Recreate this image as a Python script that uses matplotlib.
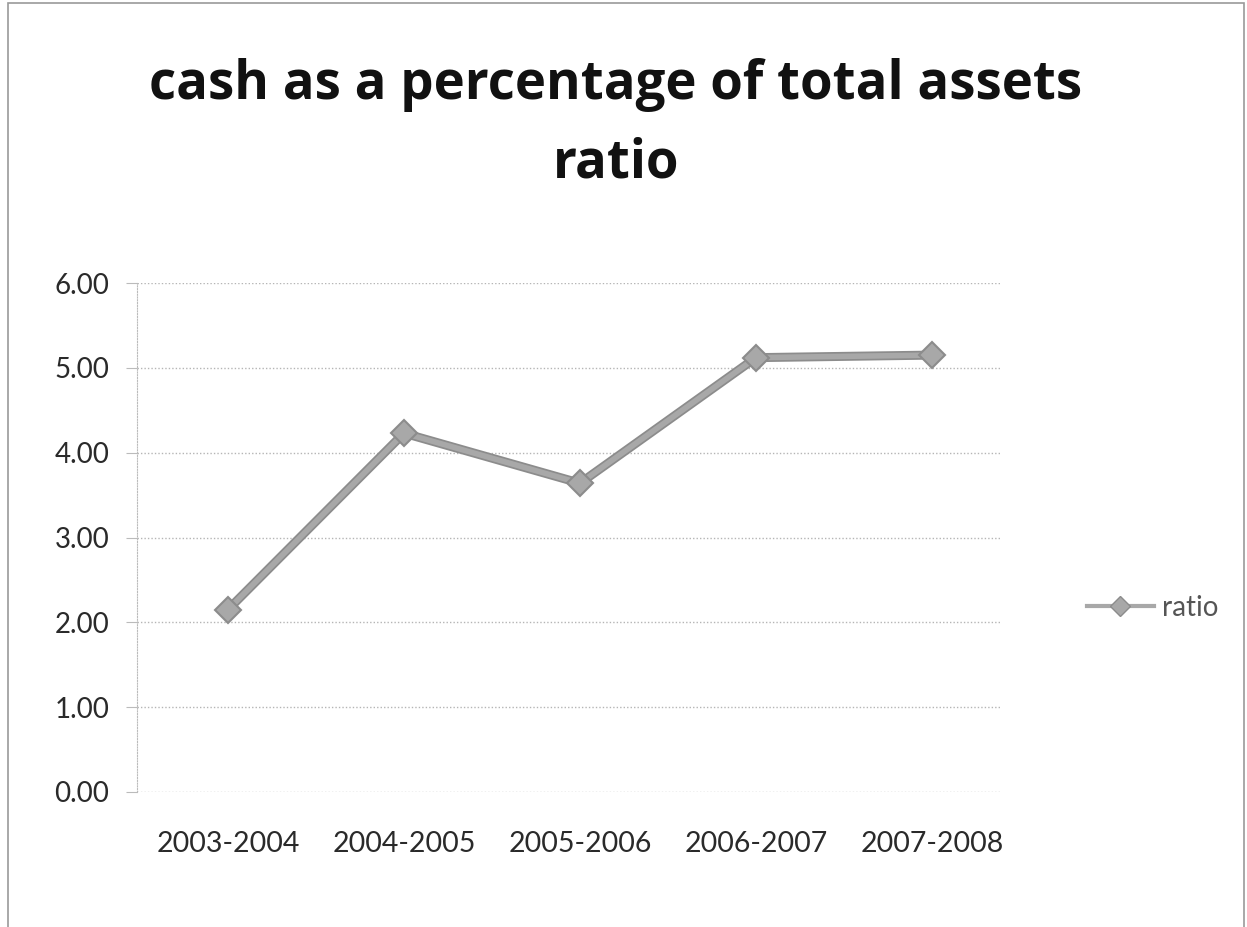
import matplotlib
matplotlib.use("Agg")
import matplotlib.pyplot as plt
from matplotlib.patches import Rectangle
from matplotlib.lines import Line2D

periods = ["2003-2004", "2004-2005", "2005-2006", "2006-2007", "2007-2008"]
ratio = [2.15, 4.23, 3.64, 5.12, 5.15]
y_ticks = [0, 1, 2, 3, 4, 5, 6]

label_font = "Lato"

W, H = 1247, 927
fig = plt.figure(figsize=(W / 100, H / 100), dpi=100)
fig.patch.set_facecolor("white")

# outer chart frame
fig.add_artist(Rectangle((8 / W, -0.01), (1244 - 8) / W, (H - 3) / H + 0.01,
                         transform=fig.transFigure, fill=False,
                         edgecolor="#9a9a9a", linewidth=1.2))

left, right, top, bottom = 137, 1002, 283, 792
ax = fig.add_axes([left / W, 1 - bottom / H, (right - left) / W, (bottom - top) / H])

x = list(range(len(periods)))
line_color = "#a8a8a8"
ax.plot(x, ratio, color="#8c8c8c", linewidth=6.5, solid_capstyle="round", zorder=3)
ax.plot(x, ratio, color=line_color, linewidth=4, marker="D", markersize=13,
        markerfacecolor=line_color, markeredgecolor="#8c8c8c", markeredgewidth=1.5,
        zorder=4)

ax.set_xlim(-0.517, 4.398)
ax.set_ylim(0, 6)
ax.set_yticks(y_ticks)
ax.set_yticklabels([f"{v:.2f}" for v in y_ticks], fontsize=20, family=label_font,
                   color="#2a2a2a")
ax.set_xticks(x)
ax.set_xticklabels(periods, fontsize=20.5, family=label_font, color="#2a2a2a")
ax.tick_params(axis="y", length=8, color="#bbbbbb", pad=12)
ax.tick_params(axis="x", length=0, pad=28)

ax.yaxis.grid(True, color="#b5b5b5", linestyle=(0, (1, 1.5)), linewidth=1)
for s in ["top", "right", "bottom"]:
    ax.spines[s].set_visible(False)
ax.spines["left"].set_color("#bbbbbb")
ax.spines["left"].set_linestyle((0, (1, 1.5)))
ax.set_axisbelow(True)

fig.text(616 / W, 1 - 85 / H, "cash as a percentage of total assets",
         ha="center", va="center", fontsize=38, fontweight="bold",
         family="Open Sans", color="#111111")
fig.text(616 / W, 1 - 163 / H, "ratio",
         ha="center", va="center", fontsize=38, fontweight="bold",
         family="Open Sans", color="#111111")

handle = Line2D([], [], color=line_color, linewidth=3, marker="D", markersize=10,
                markerfacecolor=line_color, markeredgecolor="#8c8c8c")
fig.legend([handle], ["ratio"], loc="center left",
           bbox_to_anchor=(1062 / W, 1 - 608 / H), frameon=False,
           prop={"family": label_font, "size": 20},
           handlelength=2.4, handletextpad=0.3, labelcolor="#555555")

fig.savefig("out.png", dpi=100, facecolor="white")
